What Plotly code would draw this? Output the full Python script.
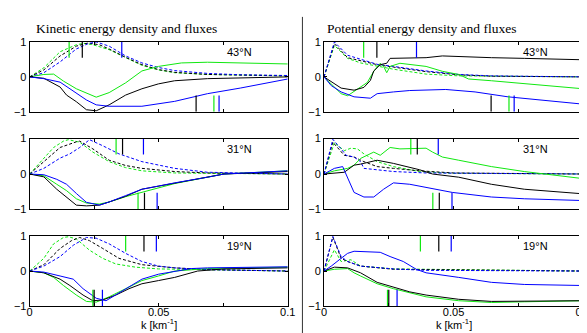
import plotly.graph_objects as go

W, H = 587, 333

# ---------------- data (wavenumber k in 1/km, normalized values) ----------------
# Kinetic 43N
ke43_flux_green_wn = [0, 0.0055, 0.0093, 0.0131, 0.0181, 0.0258, 0.0308, 0.0372, 0.0435, 0.0499, 0.0588, 0.0689, 0.1]
ke43_flux_green_val = [0, 0.07, 0.08, -0.12, -0.34, -0.58, -0.45, -0.17, 0.17, 0.3, 0.4, 0.42, 0.37]
ke43_flux_black_wn = [0, 0.0055, 0.0118, 0.0143, 0.0181, 0.022, 0.0258, 0.0308, 0.0372, 0.0435, 0.0499, 0.0562, 0.0689, 0.1]
ke43_flux_black_val = [0, -0.04, -0.29, -0.52, -0.71, -0.94, -0.97, -0.8, -0.52, -0.34, -0.2, -0.11, -0.05, 0.0]
ke43_flux_blue_wn = [0, 0.0055, 0.0118, 0.0181, 0.022, 0.0258, 0.0308, 0.0435, 0.0562, 0.0689, 0.0816, 0.1]
ke43_flux_blue_val = [0, -0.05, -0.15, -0.48, -0.66, -0.8, -0.84, -0.84, -0.7, -0.48, -0.32, -0.06]
ke43_dens_green_wn = [0, 0.0055, 0.0118, 0.0181, 0.021, 0.0245, 0.0308, 0.0372, 0.0435, 0.0499, 0.0562, 0.0689, 0.1]
ke43_dens_green_val = [0, 0.26, 0.72, 0.92, 0.96, 0.92, 0.78, 0.55, 0.33, 0.2, 0.12, 0.07, 0.03]
ke43_dens_black_wn = [0, 0.0055, 0.0118, 0.0181, 0.0226, 0.027, 0.0308, 0.0372, 0.0435, 0.0499, 0.0562, 0.0689, 0.1]
ke43_dens_black_val = [0, 0.2, 0.6, 0.88, 0.97, 0.92, 0.8, 0.56, 0.35, 0.21, 0.13, 0.07, 0.03]
ke43_dens_blue_wn = [0, 0.0055, 0.0118, 0.0181, 0.0226, 0.0258, 0.0308, 0.0372, 0.0435, 0.0499, 0.0562, 0.0689, 0.0816, 0.1]
ke43_dens_blue_val = [0, 0.12, 0.43, 0.8, 0.95, 1.0, 0.88, 0.6, 0.4, 0.27, 0.18, 0.1, 0.06, 0.04]

# Potential 43N
pe43_flux_green_wn = [0, 0.0028, 0.0066, 0.0091, 0.0129, 0.0167, 0.0192, 0.0217, 0.023, 0.0242, 0.0255, 0.0293, 0.0394, 0.0457, 0.052, 0.0558, 0.0646, 0.0773, 0.1]
pe43_flux_green_val = [0, -0.2, -0.48, -0.54, -0.34, -0.16, 0.16, 0.39, 0.3, 0.12, 0.3, 0.39, 0.3, 0.16, 0.07, -0.06, -0.11, -0.2, -0.34]
pe43_flux_black_wn = [0, 0.0028, 0.0066, 0.0116, 0.0154, 0.0179, 0.0192, 0.0217, 0.0242, 0.0255, 0.0293, 0.0394, 0.0457, 0.052, 0.0646, 0.0773, 0.1]
pe43_flux_black_val = [0, -0.14, -0.32, -0.38, -0.3, -0.1, 0.17, 0.35, 0.39, 0.53, 0.53, 0.55, 0.6, 0.58, 0.55, 0.53, 0.49]
pe43_flux_blue_wn = [0, 0.0028, 0.0066, 0.0116, 0.0179, 0.0205, 0.0268, 0.0331, 0.047, 0.0583, 0.071, 0.0836, 0.1]
pe43_flux_blue_val = [0, -0.25, -0.43, -0.57, -0.61, -0.48, -0.43, -0.39, -0.36, -0.43, -0.57, -0.66, -0.78]
pe43_dens_green_wn = [0, 0.004, 0.0091, 0.0141, 0.0268, 0.0394, 0.052, 0.1]
pe43_dens_green_val = [0, 0.9, 0.53, 0.4, 0.22, 0.08, 0.03, 0.0]
pe43_dens_black_wn = [0, 0.004, 0.0091, 0.0205, 0.0268, 0.0394, 0.052, 0.0646, 0.1]
pe43_dens_black_val = [0, 0.95, 0.55, 0.35, 0.28, 0.15, 0.06, 0.02, 0.0]
pe43_dens_blue_wn = [0, 0.004, 0.0091, 0.0205, 0.0268, 0.0394, 0.052, 0.0646, 0.1]
pe43_dens_blue_val = [0, 1.0, 0.62, 0.36, 0.3, 0.17, 0.07, 0.03, 0.0]

# Kinetic 31N
ke31_flux_green_wn = [0, 0.0055, 0.0105, 0.0143, 0.0181, 0.022, 0.027, 0.0308, 0.0372, 0.0435, 0.0499, 0.0562, 0.0689, 0.0753, 0.1]
ke31_flux_green_val = [0, -0.05, -0.29, -0.47, -0.7, -0.82, -0.85, -0.79, -0.64, -0.52, -0.4, -0.27, -0.09, 0.0, 0.09]
ke31_flux_black_wn = [0, 0.0055, 0.0105, 0.0143, 0.0181, 0.022, 0.027, 0.0308, 0.0372, 0.0435, 0.0499, 0.0562, 0.0689, 0.0753, 0.1]
ke31_flux_black_val = [0, -0.08, -0.43, -0.65, -0.88, -0.9, -0.88, -0.79, -0.63, -0.43, -0.34, -0.26, -0.09, 0.0, 0.07]
ke31_flux_blue_wn = [0, 0.0055, 0.0105, 0.0143, 0.0181, 0.022, 0.027, 0.0308, 0.0372, 0.0435, 0.0499, 0.0562, 0.0689, 0.0753, 0.1]
ke31_flux_blue_val = [0, -0.02, -0.15, -0.29, -0.55, -0.8, -0.88, -0.79, -0.61, -0.43, -0.34, -0.25, -0.09, 0.0, 0.09]
ke31_dens_green_wn = [0, 0.0055, 0.0093, 0.0131, 0.015, 0.0194, 0.0245, 0.0308, 0.0372, 0.0435, 0.0562, 0.1]
ke31_dens_green_val = [0, 0.44, 0.75, 0.93, 0.97, 0.9, 0.62, 0.35, 0.18, 0.09, 0.03, 0.0]
ke31_dens_black_wn = [0, 0.0055, 0.0118, 0.0181, 0.0194, 0.0245, 0.0308, 0.0372, 0.0435, 0.0562, 0.0689, 0.1]
ke31_dens_black_val = [0, 0.35, 0.75, 0.91, 0.93, 0.71, 0.39, 0.24, 0.16, 0.07, 0.03, 0.0]
ke31_dens_blue_wn = [0, 0.0055, 0.0118, 0.0156, 0.0194, 0.0232, 0.0283, 0.0346, 0.0435, 0.0562, 0.0689, 0.1]
ke31_dens_blue_val = [0, 0.16, 0.45, 0.57, 0.75, 0.97, 0.8, 0.57, 0.35, 0.16, 0.05, 0.0]

# Potential 31N
pe31_flux_green_wn = [0, 0.004, 0.0091, 0.0116, 0.0141, 0.0192, 0.0217, 0.0255, 0.0293, 0.0394, 0.0419, 0.0457, 0.052, 0.0646, 0.0773, 0.1]
pe31_flux_green_val = [0, 0.09, 0.16, 0.25, 0.44, 0.62, 0.53, 0.75, 0.71, 0.73, 0.62, 0.48, 0.39, 0.21, 0.07, -0.13]
pe31_flux_black_wn = [0, 0.0078, 0.0116, 0.0141, 0.0205, 0.0268, 0.0369, 0.0419, 0.052, 0.0646, 0.0773, 0.1]
pe31_flux_black_val = [0, 0.05, 0.25, 0.28, 0.39, 0.3, 0.12, 0.0, -0.09, -0.29, -0.43, -0.56]
pe31_flux_blue_wn = [0, 0.004, 0.0072, 0.0091, 0.0116, 0.0154, 0.0192, 0.023, 0.0268, 0.0331, 0.0394, 0.0495, 0.0646, 0.0773, 0.1]
pe31_flux_blue_val = [0, 0.16, 0.21, -0.11, -0.52, -0.65, -0.65, -0.43, -0.25, -0.29, -0.38, -0.52, -0.65, -0.7, -0.75]
pe31_dens_green_wn = [0, 0.004, 0.0078, 0.0104, 0.0129, 0.0154, 0.0205, 0.0268, 0.0369, 0.05, 0.1]
pe31_dens_green_val = [0, 0.89, 0.66, 0.73, 0.71, 0.57, 0.35, 0.21, 0.07, 0.02, 0.0]
pe31_dens_black_wn = [0, 0.0034, 0.0078, 0.0116, 0.0154, 0.0205, 0.0268, 0.0369, 0.05, 0.1]
pe31_dens_black_val = [0, 0.9, 0.53, 0.48, 0.35, 0.21, 0.16, 0.09, 0.03, 0.0]
pe31_dens_blue_wn = [0, 0.0034, 0.0066, 0.0085, 0.0116, 0.0141, 0.0154, 0.0205, 0.0268, 0.0394, 0.1]
pe31_dens_blue_val = [0, 0.98, 0.71, 0.53, 0.48, 0.35, 0.16, 0.12, 0.07, 0.03, 0.0]

# Kinetic 19N
ke19_flux_green_wn = [0, 0.0055, 0.0093, 0.0131, 0.0181, 0.022, 0.0258, 0.0308, 0.0372, 0.0435, 0.0499, 0.0562, 0.0689, 0.1]
ke19_flux_green_val = [0, -0.05, -0.18, -0.41, -0.68, -0.86, -0.88, -0.73, -0.5, -0.27, -0.14, 0.0, 0.07, 0.11]
ke19_flux_black_wn = [0, 0.0055, 0.0118, 0.0156, 0.0207, 0.0245, 0.0283, 0.0334, 0.0385, 0.0435, 0.0499, 0.0562, 0.0651, 0.0753, 0.1]
ke19_flux_black_val = [0, -0.05, -0.23, -0.41, -0.68, -0.84, -0.82, -0.68, -0.5, -0.36, -0.27, -0.18, 0.0, 0.06, 0.09]
ke19_flux_blue_wn = [0, 0.0055, 0.0118, 0.0169, 0.0207, 0.0258, 0.0296, 0.0334, 0.0385, 0.0435, 0.0499, 0.0562, 0.0626, 0.0689, 0.1]
ke19_flux_blue_val = [0, -0.03, -0.14, -0.23, -0.5, -0.77, -0.84, -0.68, -0.45, -0.23, -0.09, 0.0, 0.07, 0.09, 0.12]
ke19_dens_green_wn = [0, 0.0055, 0.0093, 0.0131, 0.015, 0.0181, 0.0232, 0.0283, 0.0334, 0.041, 0.0499, 0.1]
ke19_dens_green_val = [0, 0.36, 0.77, 0.95, 0.97, 0.91, 0.59, 0.36, 0.2, 0.11, 0.06, 0.0]
ke19_dens_black_wn = [0, 0.0055, 0.0118, 0.0162, 0.0194, 0.0232, 0.0283, 0.0346, 0.0435, 0.0562, 0.0689, 0.1]
ke19_dens_black_val = [0, 0.18, 0.64, 0.86, 0.95, 0.86, 0.64, 0.36, 0.18, 0.09, 0.04, 0.0]
ke19_dens_blue_wn = [0, 0.0055, 0.0118, 0.0169, 0.022, 0.0258, 0.0308, 0.0372, 0.0435, 0.0499, 0.0562, 0.0689, 0.1]
ke19_dens_blue_val = [0, 0.14, 0.41, 0.73, 0.95, 0.93, 0.77, 0.5, 0.27, 0.14, 0.09, 0.04, 0.0]

# Potential 19N
pe19_flux_green_wn = [0, 0.004, 0.0091, 0.0116, 0.0141, 0.0205, 0.0268, 0.0331, 0.0394, 0.052, 0.0646, 0.0773, 0.1]
pe19_flux_green_val = [0, 0.05, 0.07, -0.05, -0.14, -0.36, -0.5, -0.62, -0.73, -0.84, -0.89, -0.87, -0.84]
pe19_flux_black_wn = [0, 0.004, 0.0091, 0.0141, 0.0205, 0.0268, 0.0331, 0.0394, 0.052, 0.0646, 0.0773, 0.1]
pe19_flux_black_val = [0, 0.11, 0.09, -0.05, -0.32, -0.45, -0.59, -0.68, -0.8, -0.86, -0.86, -0.84]
pe19_flux_blue_wn = [0, 0.0028, 0.0066, 0.0091, 0.0116, 0.0167, 0.0217, 0.0255, 0.0306, 0.0356, 0.0394, 0.052, 0.0646, 0.0773, 0.1]
pe19_flux_blue_val = [0, 0.14, 0.36, 0.5, 0.56, 0.55, 0.53, 0.41, 0.27, 0.05, -0.05, -0.18, -0.32, -0.38, -0.41]
pe19_dens_green_wn = [0, 0.004, 0.0066, 0.0104, 0.0141, 0.0268, 0.1]
pe19_dens_green_val = [0, 0.6, 0.27, 0.32, 0.14, 0.06, 0.0]
pe19_dens_black_wn = [0, 0.0034, 0.0066, 0.0091, 0.0141, 0.0268, 0.1]
pe19_dens_black_val = [0, 0.96, 0.36, 0.27, 0.14, 0.05, 0.0]
pe19_dens_blue_wn = [0, 0.0034, 0.0066, 0.0091, 0.0141, 0.0268, 0.0394, 0.1]
pe19_dens_blue_val = [0, 0.98, 0.41, 0.27, 0.14, 0.06, 0.02, 0.0]

# Vertical marker wavenumbers [green, black, blue]
top_marker_wn_43 = [0.0153, 0.0204, 0.0357]
bottom_marker_wn_43 = [0.0714, 0.0645, 0.0734]
top_marker_wn_31 = [0.0335, 0.036, 0.0441]
bottom_marker_wn_31 = [0.042, 0.0445, 0.0494]
top_marker_wn_19 = [0.0372, 0.0443, 0.0491]
bottom_marker_wn_19 = [0.0245, 0.025, 0.0282]

latitude_labels = ["43°N", "31°N", "19°N"]
panel_titles = ["Kinetic energy density and fluxes", "Potential energy density and fluxes"]
x_tick_vals = [0, 0.025, 0.05, 0.075, 0.1]
x_tick_text = ["0", "", "0.05", "", "0.1"]
y_tick_vals = [-1, 0, 1]
y_tick_text = ["\u22121", "0", "1"]

# ---------------- figure ----------------
GREEN, BLACK, BLUE = "#10e810", "#000000", "#0000ff"
colors = [GREEN, BLACK, BLUE]

panels = [
    ([(ke43_flux_green_wn, ke43_flux_green_val), (ke43_flux_black_wn, ke43_flux_black_val), (ke43_flux_blue_wn, ke43_flux_blue_val)],
     [(ke43_dens_green_wn, ke43_dens_green_val), (ke43_dens_black_wn, ke43_dens_black_val), (ke43_dens_blue_wn, ke43_dens_blue_val)],
     top_marker_wn_43, bottom_marker_wn_43, latitude_labels[0]),
    ([(pe43_flux_green_wn, pe43_flux_green_val), (pe43_flux_black_wn, pe43_flux_black_val), (pe43_flux_blue_wn, pe43_flux_blue_val)],
     [(pe43_dens_green_wn, pe43_dens_green_val), (pe43_dens_black_wn, pe43_dens_black_val), (pe43_dens_blue_wn, pe43_dens_blue_val)],
     top_marker_wn_43, bottom_marker_wn_43, latitude_labels[0]),
    ([(ke31_flux_green_wn, ke31_flux_green_val), (ke31_flux_black_wn, ke31_flux_black_val), (ke31_flux_blue_wn, ke31_flux_blue_val)],
     [(ke31_dens_green_wn, ke31_dens_green_val), (ke31_dens_black_wn, ke31_dens_black_val), (ke31_dens_blue_wn, ke31_dens_blue_val)],
     top_marker_wn_31, bottom_marker_wn_31, latitude_labels[1]),
    ([(pe31_flux_green_wn, pe31_flux_green_val), (pe31_flux_black_wn, pe31_flux_black_val), (pe31_flux_blue_wn, pe31_flux_blue_val)],
     [(pe31_dens_green_wn, pe31_dens_green_val), (pe31_dens_black_wn, pe31_dens_black_val), (pe31_dens_blue_wn, pe31_dens_blue_val)],
     top_marker_wn_31, bottom_marker_wn_31, latitude_labels[1]),
    ([(ke19_flux_green_wn, ke19_flux_green_val), (ke19_flux_black_wn, ke19_flux_black_val), (ke19_flux_blue_wn, ke19_flux_blue_val)],
     [(ke19_dens_green_wn, ke19_dens_green_val), (ke19_dens_black_wn, ke19_dens_black_val), (ke19_dens_blue_wn, ke19_dens_blue_val)],
     top_marker_wn_19, bottom_marker_wn_19, latitude_labels[2]),
    ([(pe19_flux_green_wn, pe19_flux_green_val), (pe19_flux_black_wn, pe19_flux_black_val), (pe19_flux_blue_wn, pe19_flux_blue_val)],
     [(pe19_dens_green_wn, pe19_dens_green_val), (pe19_dens_black_wn, pe19_dens_black_val), (pe19_dens_blue_wn, pe19_dens_blue_val)],
     top_marker_wn_19, bottom_marker_wn_19, latitude_labels[2]),
]

# pixel layout
col_px = [(19, 282), (319, 583)]
row_px = [(29, 101.5), (129.3, 202.7), (230, 303.3)]

fig = go.Figure()
layout = dict(
    width=W, height=H, margin=dict(l=0, r=0, t=0, b=0),
    paper_bgcolor="white", plot_bgcolor="white", showlegend=False,
    font=dict(family="Liberation Sans, Arial, sans-serif", size=11, color="black"),
)
annotations = []
shapes = []

for i, (fluxes, dens, topm, botm, lab) in enumerate(panels):
    r, c = i // 2, i % 2
    n = i + 1
    xa = "x" if n == 1 else f"x{n}"
    ya = "y" if n == 1 else f"y{n}"
    x0, x1 = col_px[c]
    y0, y1 = row_px[r]
    layout[f"xaxis{'' if n == 1 else n}"] = dict(
        domain=[x0 / W, x1 / W], anchor=ya, range=[0, 0.1],
        tickmode="array", tickvals=x_tick_vals, ticktext=x_tick_text,
        showticklabels=(r == 2), ticks="inside", ticklen=3, tickwidth=1, tickcolor="black",
        mirror="ticks", showline=True, linecolor="black", linewidth=1,
        showgrid=False, zeroline=False, tickfont=dict(size=11),
        ticklabelstandoff=-5,
    )
    layout[f"yaxis{'' if n == 1 else n}"] = dict(
        domain=[1 - y1 / H, 1 - y0 / H], anchor=xa, range=[-1, 1],
        tickmode="array", tickvals=y_tick_vals, ticktext=y_tick_text,
        ticks="inside", ticklen=3, tickwidth=1, tickcolor="black",
        mirror="ticks", showline=True, linecolor="black", linewidth=1,
        showgrid=False, zeroline=False, tickfont=dict(size=11),
    )
    for (wn, val), col in zip(dens, colors):
        fig.add_trace(go.Scatter(x=wn, y=val, mode="lines", xaxis=xa, yaxis=ya,
                                 line=dict(color=col, width=1, dash="3px,2px"), hoverinfo="skip"))
    for (wn, val), col in zip(fluxes, colors):
        fig.add_trace(go.Scatter(x=wn, y=val, mode="lines", xaxis=xa, yaxis=ya,
                                 line=dict(color=col, width=1), hoverinfo="skip"))
    for wn, col in zip(topm, colors):
        fig.add_trace(go.Scatter(x=[wn, wn], y=[1, 0.55], mode="lines", xaxis=xa, yaxis=ya,
                                 line=dict(color=col, width=1.2), hoverinfo="skip"))
    for wn, col in zip(botm, colors):
        fig.add_trace(go.Scatter(x=[wn, wn], y=[-1, -0.53], mode="lines", xaxis=xa, yaxis=ya,
                                 line=dict(color=col, width=1.2), hoverinfo="skip"))
    annotations.append(dict(x=0.0815, y=0.7, xref=xa, yref=ya, text=lab, showarrow=False,
                            xanchor="center", yanchor="middle",
                            font=dict(size=11, color="black")))
    if r == 2:
        annotations.append(dict(x=(x0 + x1) / 2 / W, y=1 - 322 / H, xref="paper", yref="paper",
                                text="k [km<sup>-1</sup>]", showarrow=False,
                                xanchor="center", yanchor="middle", font=dict(size=11)))

for c, t in enumerate(panel_titles):
    annotations.append(dict(x=(23 if c == 0 else 320) / W, y=1 - 15 / H, xref="paper", yref="paper",
                            text=t, showarrow=False, xanchor="left", yanchor="middle",
                            font=dict(family="Liberation Serif, Times New Roman, serif", size=13.5)))

shapes.append(dict(type="line", xref="paper", yref="paper", x0=297 / W, x1=297 / W,
                   y0=1 - 3 / H, y1=1 - 331 / H, line=dict(color="#333333", width=1)))

layout["annotations"] = annotations
layout["shapes"] = shapes
fig.update_layout(**layout)
fig.write_html("out.html")
